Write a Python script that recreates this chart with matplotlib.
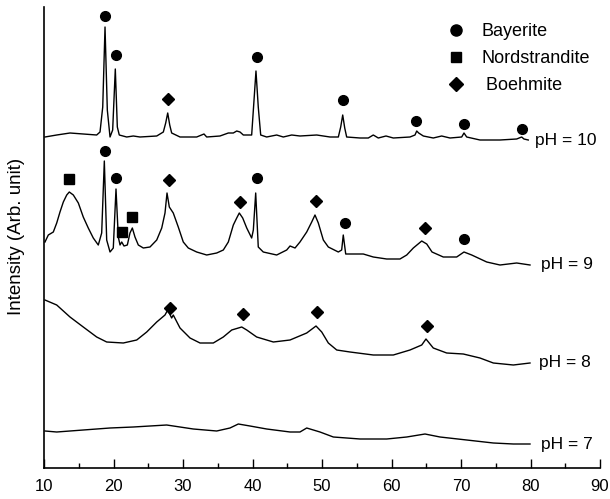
import matplotlib
matplotlib.use("Agg")
import matplotlib.pyplot as plt
from matplotlib.lines import Line2D
from matplotlib.ticker import MultipleLocator

plt.rcParams['font.family'] = ['Liberation Sans', 'DejaVu Sans']

# ---- data (2theta in degrees, stacked intensity in arbitrary units) ----
x10 = [10.14, 11.83, 13.74, 15.65, 17.58, 18.06, 18.45, 18.78, 19.11, 19.50,
       19.88, 20.26, 20.55, 20.83, 21.90, 22.85, 23.81, 26.22, 27.17, 27.51,
       27.80, 28.09, 28.37, 29.57, 31.97, 33.02, 33.41, 35.32, 36.52, 37.24,
       37.73, 38.20, 38.68, 39.88, 40.22, 40.50, 40.83, 41.18, 42.04, 43.48,
       44.43, 45.64, 46.83, 49.24, 51.15, 52.35, 52.69, 52.98, 53.27, 53.55,
       55.47, 56.66, 57.38, 58.10, 59.21, 60.26, 62.66, 63.38, 63.63, 63.91,
       64.58, 66.01, 67.22, 68.42, 70.10, 70.43, 70.82, 72.73, 75.61, 78.01,
       78.73, 79.06, 79.68]
y10 = [331, 333, 335, 334, 333, 336, 361, 441, 358, 331,
       338, 399, 341, 333, 331, 332, 331, 332, 336, 345,
       355, 343, 335, 331, 331, 334, 331, 332, 335, 335,
       337, 336, 333, 333, 368, 397, 361, 333, 331, 333,
       331, 333, 332, 333, 331, 331, 341, 353, 340, 331,
       330, 330, 333, 330, 332, 330, 331, 333, 337, 335,
       332, 330, 332, 330, 331, 335, 331, 328, 328, 329,
       331, 329, 328]

x9 = [10.14, 10.62, 11.34, 11.83, 12.30, 12.78, 13.27, 13.64, 14.22, 14.94,
      15.65, 16.37, 17.09, 17.81, 18.30, 18.68, 19.02, 19.50, 19.97, 20.36,
      20.69, 20.94, 21.18, 21.51, 21.99, 22.37, 22.71, 23.09, 23.57, 24.29,
      25.25, 26.22, 26.94, 27.41, 27.70, 28.03, 28.60, 29.32, 30.04, 30.76,
      31.97, 33.41, 34.85, 35.80, 36.52, 37.24, 37.73, 38.10, 38.59, 39.17,
      39.88, 40.12, 40.46, 40.83, 41.55, 43.48, 44.92, 45.40, 46.12, 46.83,
      47.80, 48.52, 48.99, 49.47, 50.19, 50.91, 52.35, 52.83, 53.06, 53.41,
      54.50, 55.94, 57.38, 59.31, 61.22, 62.19, 63.14, 64.35, 65.07, 65.83,
      67.45, 69.38, 70.43, 71.54, 73.70, 75.61, 78.01, 79.93]
y9 = [226, 233, 236, 245, 256, 266, 273, 276, 273, 265,
      251, 240, 230, 223, 235, 307, 228, 216, 220, 279,
      231, 223, 226, 222, 223, 235, 240, 231, 223, 220,
      221, 228, 240, 255, 275, 261, 255, 241, 226, 220,
      216, 213, 215, 218, 226, 243, 250, 255, 250, 240,
      230, 238, 275, 221, 216, 213, 218, 222, 220, 226,
      236, 246, 253, 245, 228, 221, 216, 218, 233, 214,
      214, 214, 211, 209, 209, 213, 220, 227, 224, 216,
      211, 211, 216, 213, 206, 203, 205, 203]

x8 = [10.14, 11.83, 13.74, 15.65, 17.58, 19.02, 21.41, 23.34, 24.78, 26.22,
      27.41, 27.80, 28.37, 28.60, 29.57, 31.01, 32.45, 34.36, 35.80, 37.01,
      38.45, 39.17, 40.60, 43.00, 45.40, 47.80, 49.14, 49.96, 50.91, 52.12,
      54.03, 57.38, 60.26, 62.66, 64.35, 64.96, 66.01, 67.94, 70.33, 72.73,
      74.65, 77.53, 79.93]
y8 = [168, 163, 151, 141, 131, 126, 125, 128, 136, 146,
      153, 158, 150, 153, 140, 130, 125, 125, 131, 138,
      141, 138, 131, 126, 128, 135, 142, 136, 125, 118,
      116, 113, 113, 118, 123, 129, 120, 115, 114, 110,
      105, 103, 105]

x7 = [10.14, 11.83, 15.65, 19.50, 22.85, 27.65, 31.48, 34.85, 36.76, 37.96,
      39.64, 42.04, 45.40, 46.83, 47.80, 49.71, 51.63, 55.47, 59.31, 62.19,
      64.82, 66.98, 70.82, 74.65, 77.53, 79.93]
y7 = [37, 36, 38, 40, 41, 43, 39, 37, 40, 44,
      42, 39, 36, 36, 40, 36, 31, 29, 29, 31,
      34, 31, 28, 25, 24, 24]

series_labels = ["pH = 10", "pH = 9", "pH = 8", "pH = 7"]

# phase markers (x, y)
bayerite_x = [18.82, 20.32, 40.60, 52.98, 63.57, 70.48, 78.78,
              18.78, 20.40, 40.69, 53.31, 70.48]
bayerite_y = [452, 413, 411, 368, 347, 344, 339,
              317, 290, 290, 245, 229]
nord_x = [13.60, 21.22, 22.71]
nord_y = [289, 236, 251]
boeh_x = [27.84, 28.00, 38.20, 49.14, 64.82, 28.13, 38.59, 49.32, 65.06]
boeh_y = [369, 288, 266, 267, 240, 160, 154, 156, 142]

legend_labels = ["Bayerite", "Nordstrandite", " Boehmite"]

# ---- figure ----
fig = plt.figure(figsize=(6.10, 4.99), dpi=100)
ax = fig.add_axes([44/610, 31/499, 556/610, 461/499])

curves = [(x10, y10), (x9, y9), (x8, y8), (x7, y7)]
label_dx = [1.0, 1.6, 1.3, 1.6]
for (xs, ys), lab, dx in zip(curves, series_labels, label_dx):
    ax.plot(xs, ys, color='black', lw=1.0)
    ax.text(xs[-1] + dx, ys[-1], lab, fontsize=12.5, ha='left', va='center')

ax.plot(bayerite_x, bayerite_y, 'o', color='black', ms=7, ls='none')
ax.plot(nord_x, nord_y, 's', color='black', ms=6.5, ls='none')
ax.plot(boeh_x, boeh_y, 'D', color='black', ms=6.5, ls='none')

handles = [Line2D([], [], marker='o', color='black', ls='none', ms=8),
           Line2D([], [], marker='s', color='black', ls='none', ms=7),
           Line2D([], [], marker='D', color='black', ls='none', ms=7)]
ax.legend(handles, legend_labels, loc='upper left',
          bbox_to_anchor=((447 - 44) / 556, (468 - 23) / 461),
          frameon=False, fontsize=13, handlelength=1.0, handletextpad=0.9,
          labelspacing=0.55, borderpad=0, borderaxespad=0)

ax.set_xlim(10, 90)
ax.set_ylim(0, 461)
ax.set_ylabel("Intensity (Arb. unit)", fontsize=13.5)
ax.yaxis.set_label_coords(-19/556, (468 - 236) / 461)

ax.spines['top'].set_visible(False)
ax.spines['right'].set_visible(False)
for s in ('left', 'bottom'):
    ax.spines[s].set_linewidth(1.2)
ax.set_yticks([])
ax.xaxis.set_major_locator(MultipleLocator(10))
ax.xaxis.set_minor_locator(MultipleLocator(5))
ax.tick_params(axis='x', which='major', direction='in', length=6.5, width=1.0,
               labelsize=12, pad=8)
ax.tick_params(axis='x', which='minor', direction='in', length=3.5, width=1.0)

fig.savefig("out.png", dpi=100)
